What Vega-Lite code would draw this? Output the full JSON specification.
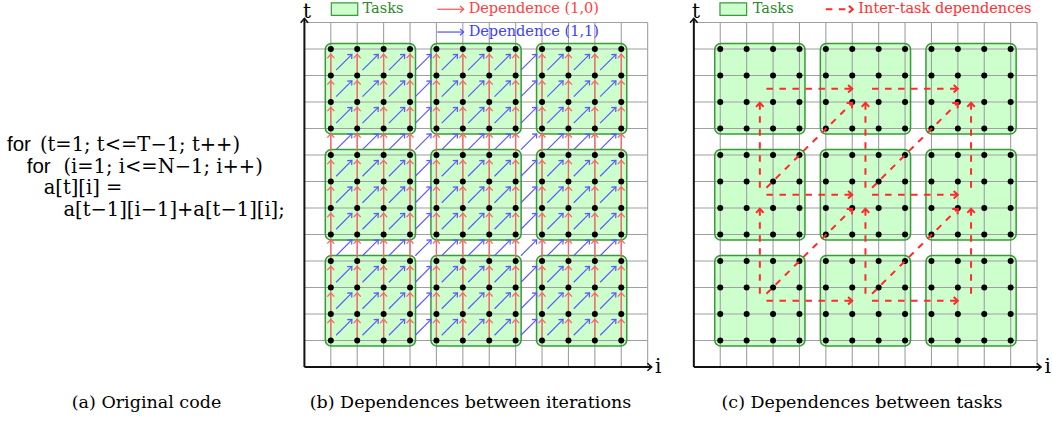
{
"$schema":"https://vega.github.io/schema/vega-lite/v6.json",
"padding":0,
"spacing":0,
"bounds":"flush",
"background":"white",
"config":{"view":{"stroke":null},"axis":{"disable":true},"legend":{"disable":true},
  "title":{"font":"DejaVu Serif","fontSize":17.5,"fontWeight":"normal","orient":"bottom","offset":9,"color":"#000"}},
"resolve":{"scale":{"x":"independent","y":"independent"}},
"datasets":{
"pts":[
{"i":1,"t":1},{"i":1,"t":2},{"i":1,"t":3},{"i":1,"t":4},{"i":1,"t":5},{"i":1,"t":6},{"i":1,"t":7},{"i":1,"t":8},{"i":1,"t":9},{"i":1,"t":10},{"i":1,"t":11},{"i":1,"t":12},
{"i":2,"t":1},{"i":2,"t":2},{"i":2,"t":3},{"i":2,"t":4},{"i":2,"t":5},{"i":2,"t":6},{"i":2,"t":7},{"i":2,"t":8},{"i":2,"t":9},{"i":2,"t":10},{"i":2,"t":11},{"i":2,"t":12},
{"i":3,"t":1},{"i":3,"t":2},{"i":3,"t":3},{"i":3,"t":4},{"i":3,"t":5},{"i":3,"t":6},{"i":3,"t":7},{"i":3,"t":8},{"i":3,"t":9},{"i":3,"t":10},{"i":3,"t":11},{"i":3,"t":12},
{"i":4,"t":1},{"i":4,"t":2},{"i":4,"t":3},{"i":4,"t":4},{"i":4,"t":5},{"i":4,"t":6},{"i":4,"t":7},{"i":4,"t":8},{"i":4,"t":9},{"i":4,"t":10},{"i":4,"t":11},{"i":4,"t":12},
{"i":5,"t":1},{"i":5,"t":2},{"i":5,"t":3},{"i":5,"t":4},{"i":5,"t":5},{"i":5,"t":6},{"i":5,"t":7},{"i":5,"t":8},{"i":5,"t":9},{"i":5,"t":10},{"i":5,"t":11},{"i":5,"t":12},
{"i":6,"t":1},{"i":6,"t":2},{"i":6,"t":3},{"i":6,"t":4},{"i":6,"t":5},{"i":6,"t":6},{"i":6,"t":7},{"i":6,"t":8},{"i":6,"t":9},{"i":6,"t":10},{"i":6,"t":11},{"i":6,"t":12},
{"i":7,"t":1},{"i":7,"t":2},{"i":7,"t":3},{"i":7,"t":4},{"i":7,"t":5},{"i":7,"t":6},{"i":7,"t":7},{"i":7,"t":8},{"i":7,"t":9},{"i":7,"t":10},{"i":7,"t":11},{"i":7,"t":12},
{"i":8,"t":1},{"i":8,"t":2},{"i":8,"t":3},{"i":8,"t":4},{"i":8,"t":5},{"i":8,"t":6},{"i":8,"t":7},{"i":8,"t":8},{"i":8,"t":9},{"i":8,"t":10},{"i":8,"t":11},{"i":8,"t":12},
{"i":9,"t":1},{"i":9,"t":2},{"i":9,"t":3},{"i":9,"t":4},{"i":9,"t":5},{"i":9,"t":6},{"i":9,"t":7},{"i":9,"t":8},{"i":9,"t":9},{"i":9,"t":10},{"i":9,"t":11},{"i":9,"t":12},
{"i":10,"t":1},{"i":10,"t":2},{"i":10,"t":3},{"i":10,"t":4},{"i":10,"t":5},{"i":10,"t":6},{"i":10,"t":7},{"i":10,"t":8},{"i":10,"t":9},{"i":10,"t":10},{"i":10,"t":11},{"i":10,"t":12},
{"i":11,"t":1},{"i":11,"t":2},{"i":11,"t":3},{"i":11,"t":4},{"i":11,"t":5},{"i":11,"t":6},{"i":11,"t":7},{"i":11,"t":8},{"i":11,"t":9},{"i":11,"t":10},{"i":11,"t":11},{"i":11,"t":12},
{"i":12,"t":1},{"i":12,"t":2},{"i":12,"t":3},{"i":12,"t":4},{"i":12,"t":5},{"i":12,"t":6},{"i":12,"t":7},{"i":12,"t":8},{"i":12,"t":9},{"i":12,"t":10},{"i":12,"t":11},{"i":12,"t":12}
],
"grid":[{"v":1},{"v":2},{"v":3},{"v":4},{"v":5},{"v":6},{"v":7},{"v":8},{"v":9},{"v":10},{"v":11},{"v":12},{"v":13}],
"tasks":[
{"i1":1,"i2":4,"t1":1,"t2":4},{"i1":5,"i2":8,"t1":1,"t2":4},{"i1":9,"i2":12,"t1":1,"t2":4},
{"i1":1,"i2":4,"t1":5,"t2":8},{"i1":5,"i2":8,"t1":5,"t2":8},{"i1":9,"i2":12,"t1":5,"t2":8},
{"i1":1,"i2":4,"t1":9,"t2":12},{"i1":5,"i2":8,"t1":9,"t2":12},{"i1":9,"i2":12,"t1":9,"t2":12}
],
"deps":[
{"kind":"h","i":2.5,"t":2.5,"i2":6.5,"t2":2.5},{"kind":"h","i":6.5,"t":2.5,"i2":10.5,"t2":2.5},
{"kind":"h","i":2.5,"t":6.5,"i2":6.5,"t2":6.5},{"kind":"h","i":6.5,"t":6.5,"i2":10.5,"t2":6.5},
{"kind":"h","i":2.5,"t":10.5,"i2":6.5,"t2":10.5},{"kind":"h","i":6.5,"t":10.5,"i2":10.5,"t2":10.5},
{"kind":"v","i":2.5,"t":2.5,"i2":2.5,"t2":6.5},{"kind":"v","i":2.5,"t":6.5,"i2":2.5,"t2":10.5},
{"kind":"v","i":6.5,"t":2.5,"i2":6.5,"t2":6.5},{"kind":"v","i":6.5,"t":6.5,"i2":6.5,"t2":10.5},
{"kind":"v","i":10.5,"t":2.5,"i2":10.5,"t2":6.5},{"kind":"v","i":10.5,"t":6.5,"i2":10.5,"t2":10.5},
{"kind":"d","i":2.5,"t":2.5,"i2":6.5,"t2":6.5},{"kind":"d","i":6.5,"t":2.5,"i2":10.5,"t2":6.5},
{"kind":"d","i":2.5,"t":6.5,"i2":6.5,"t2":10.5},{"kind":"d","i":6.5,"t":6.5,"i2":10.5,"t2":10.5}
],
"code":[
{"row":1,"col":0,"part":"kw","text":"for"},
{"row":1,"col":3.5,"part":"expr","text":"(t=1; t<=T−1; t++)"},
{"row":2,"col":2.1,"part":"kw","text":"for"},
{"row":2,"col":6.0,"part":"expr","text":"(i=1; i<=N−1; i++)"},
{"row":3,"col":3.9,"part":"expr","text":"a[t][i] ="},
{"row":4,"col":6.0,"part":"expr","text":"a[t−1][i−1]+a[t−1][i];"}
]
},
"hconcat":[
{
"width":277.6,"height":385,
"title":{"text":"(a) Original code","dx":7.7},
"layer":[
{"data":{"name":"code"},"transform":[{"filter":"datum.part==='kw'"}],
 "mark":{"type":"text","font":"Liberation Sans","fontSize":20.5,"align":"left","baseline":"middle","color":"#000"},
 "encoding":{"x":{"field":"col","type":"quantitative","scale":{"domain":[-0.745,28.79],"nice":false,"zero":false}},
   "y":{"field":"row","type":"quantitative","scale":{"domain":[-5.68,12.06],"nice":false,"zero":false,"reverse":true}},
   "text":{"field":"text"}}},
{"data":{"name":"code"},"transform":[{"filter":"datum.part==='expr'"}],
 "mark":{"type":"text","font":"DejaVu Serif","fontSize":19.5,"align":"left","baseline":"middle","color":"#000"},
 "encoding":{"x":{"field":"col","type":"quantitative"},"y":{"field":"row","type":"quantitative"},"text":{"field":"text"}}}
]
},
{
"width":399.5,"height":385,
"title":{"text":"(b) Dependences between iterations","dx":-7.3},
"layer":[
{"data":{"name":"tasks"},
 "mark":{"type":"rect","fill":"#ccffcc","cornerRadius":6,"xOffset":-5.5,"x2Offset":5.5,"yOffset":5.5,"y2Offset":-5.5},
 "encoding":{"x":{"field":"i1","type":"quantitative","scale":{"domain":[-1,14.13],"nice":false,"zero":false}},"x2":{"field":"i2"},
   "y":{"field":"t1","type":"quantitative","scale":{"domain":[-0.679,13.849],"nice":false,"zero":false}},"y2":{"field":"t2"}}},
{"data":{"name":"grid"},"mark":{"type":"rule","stroke":"#a0a0a0","strokeWidth":1.1},
 "encoding":{"x":{"field":"v","type":"quantitative"},"y":{"datum":0,"type":"quantitative"},"y2":{"datum":13}}},
{"data":{"name":"grid"},"mark":{"type":"rule","stroke":"#a0a0a0","strokeWidth":1.1},
 "encoding":{"y":{"field":"v","type":"quantitative"},"x":{"datum":0,"type":"quantitative"},"x2":{"datum":13}}},
{"data":{"name":"tasks"},
 "mark":{"type":"rect","fillOpacity":0,"stroke":"#3a9a3a","strokeWidth":1.5,"cornerRadius":6,"xOffset":-5.5,"x2Offset":5.5,"yOffset":5.5,"y2Offset":-5.5},
 "encoding":{"x":{"field":"i1","type":"quantitative"},"x2":{"field":"i2"},"y":{"field":"t1","type":"quantitative"},"y2":{"field":"t2"}}},
{"data":{"name":"pts"},"transform":[{"filter":"datum.t<=11"}],
 "mark":{"type":"rule","stroke":"#ff6464","strokeWidth":1.3,"y2Offset":-21.2},
 "encoding":{"x":{"field":"i","type":"quantitative"},"y":{"field":"t","type":"quantitative"},"y2":{"field":"t"}}},
{"data":{"name":"pts"},"transform":[{"filter":"datum.t<=11"}],
 "mark":{"type":"point","shape":"M -0.9 1 L 0 0 L 0.9 1","filled":false,"stroke":"#ff6464","strokeWidth":1.3,"size":60,"opacity":1,"yOffset":-21.2,"angle":0},
 "encoding":{"x":{"field":"i","type":"quantitative"},"y":{"field":"t","type":"quantitative"}}},
{"data":{"name":"pts"},"transform":[{"filter":"datum.t<=11 && datum.i<=11"}],
 "mark":{"type":"rule","stroke":"#5a5aff","strokeWidth":1.2,"xOffset":5.3,"yOffset":-5.3,"x2Offset":21.1,"y2Offset":-21.2},
 "encoding":{"x":{"field":"i","type":"quantitative"},"x2":{"field":"i"},"y":{"field":"t","type":"quantitative"},"y2":{"field":"t"}}},
{"data":{"name":"pts"},"transform":[{"filter":"datum.t<=11 && datum.i<=11"}],
 "mark":{"type":"point","shape":"M -0.9 1 L 0 0 L 0.9 1","filled":false,"stroke":"#5a5aff","strokeWidth":1.2,"size":50,"opacity":1,"xOffset":21.1,"yOffset":-21.2,"angle":45},
 "encoding":{"x":{"field":"i","type":"quantitative"},"y":{"field":"t","type":"quantitative"}}},
{"data":{"name":"pts"},
 "mark":{"type":"point","filled":true,"color":"#000","size":36,"opacity":1},
 "encoding":{"x":{"field":"i","type":"quantitative"},"y":{"field":"t","type":"quantitative"}}},
{"data":{"values":[{}]},"mark":{"type":"rule","stroke":"#111","strokeWidth":2},
 "encoding":{"x":{"datum":0,"type":"quantitative"},"x2":{"datum":13.15},"y":{"datum":0,"type":"quantitative"}}},
{"data":{"values":[{}]},"mark":{"type":"rule","stroke":"#111","strokeWidth":2},
 "encoding":{"x":{"datum":0,"type":"quantitative"},"y":{"datum":0,"type":"quantitative"},"y2":{"datum":13.15}}},
{"data":{"values":[{}]},"mark":{"type":"point","shape":"M -0.9 1 L 0 0 L 0.9 1","filled":false,"stroke":"#111","strokeWidth":1.6,"size":70,"opacity":1,"angle":90},
 "encoding":{"x":{"datum":13.15,"type":"quantitative"},"y":{"datum":0,"type":"quantitative"}}},
{"data":{"values":[{}]},"mark":{"type":"point","shape":"M -0.9 1 L 0 0 L 0.9 1","filled":false,"stroke":"#111","strokeWidth":1.6,"size":70,"opacity":1,"angle":0},
 "encoding":{"x":{"datum":0,"type":"quantitative"},"y":{"datum":13.15,"type":"quantitative"}}},
{"data":{"values":[{}]},"mark":{"type":"text","text":"i","font":"DejaVu Serif","fontSize":20,"align":"center","baseline":"middle","color":"#000"},
 "encoding":{"x":{"datum":13.4,"type":"quantitative"},"y":{"datum":0,"type":"quantitative"}}},
{"data":{"values":[{}]},"mark":{"type":"text","text":"t","font":"DejaVu Serif","fontSize":20,"align":"center","baseline":"middle","color":"#000"},
 "encoding":{"x":{"datum":0.1,"type":"quantitative"},"y":{"datum":13.4,"type":"quantitative"}}},
{"data":{"values":[{}]},"mark":{"type":"rect","fill":"#ccffcc","stroke":"#3a9a3a","strokeWidth":1.2},
 "encoding":{"x":{"datum":1.02,"type":"quantitative"},"x2":{"datum":2.02},"y":{"datum":13.27,"type":"quantitative"},"y2":{"datum":13.74}}},
{"data":{"values":[{}]},"mark":{"type":"text","text":"Tasks","font":"DejaVu Serif","fontSize":14.5,"align":"left","baseline":"middle","color":"#2a8a2a"},
 "encoding":{"x":{"datum":2.2,"type":"quantitative"},"y":{"datum":13.5,"type":"quantitative"}}},
{"data":{"values":[{}]},"mark":{"type":"rule","stroke":"#ff5050","strokeWidth":1.2},
 "encoding":{"x":{"datum":5.03,"type":"quantitative"},"x2":{"datum":6.03},"y":{"datum":13.5,"type":"quantitative"}}},
{"data":{"values":[{}]},"mark":{"type":"point","shape":"M -0.9 1 L 0 0 L 0.9 1","filled":false,"stroke":"#ff5050","strokeWidth":1.2,"size":50,"opacity":1,"angle":90},
 "encoding":{"x":{"datum":6.03,"type":"quantitative"},"y":{"datum":13.5,"type":"quantitative"}}},
{"data":{"values":[{}]},"mark":{"type":"text","text":"Dependence (1,0)","font":"DejaVu Serif","fontSize":14.5,"align":"left","baseline":"middle","color":"#ff4040"},
 "encoding":{"x":{"datum":6.22,"type":"quantitative"},"y":{"datum":13.5,"type":"quantitative"}}},
{"data":{"values":[{}]},"mark":{"type":"rule","stroke":"#5050ff","strokeWidth":1.2},
 "encoding":{"x":{"datum":5.03,"type":"quantitative"},"x2":{"datum":6.03},"y":{"datum":12.64,"type":"quantitative"}}},
{"data":{"values":[{}]},"mark":{"type":"point","shape":"M -0.9 1 L 0 0 L 0.9 1","filled":false,"stroke":"#5050ff","strokeWidth":1.2,"size":50,"opacity":1,"angle":90},
 "encoding":{"x":{"datum":6.03,"type":"quantitative"},"y":{"datum":12.64,"type":"quantitative"}}},
{"data":{"values":[{}]},"mark":{"type":"text","text":"Dependence (1,1)","font":"DejaVu Serif","fontSize":14.5,"align":"left","baseline":"middle","color":"#4040ff"},
 "encoding":{"x":{"datum":6.22,"type":"quantitative"},"y":{"datum":12.64,"type":"quantitative"}}}
]
},
{
"width":374.9,"height":385,
"title":{"text":"(c) Dependences between tasks","dx":-3.5},
"layer":[
{"data":{"name":"tasks"},
 "mark":{"type":"rect","fill":"#ccffcc","cornerRadius":6,"xOffset":-5.5,"x2Offset":5.5,"yOffset":5.5,"y2Offset":-5.5},
 "encoding":{"x":{"field":"i1","type":"quantitative","scale":{"domain":[-0.6,13.6],"nice":false,"zero":false}},"x2":{"field":"i2"},
   "y":{"field":"t1","type":"quantitative","scale":{"domain":[-0.679,13.849],"nice":false,"zero":false}},"y2":{"field":"t2"}}},
{"data":{"name":"grid"},"mark":{"type":"rule","stroke":"#a0a0a0","strokeWidth":1.1},
 "encoding":{"x":{"field":"v","type":"quantitative"},"y":{"datum":0,"type":"quantitative"},"y2":{"datum":13}}},
{"data":{"name":"grid"},"mark":{"type":"rule","stroke":"#a0a0a0","strokeWidth":1.1},
 "encoding":{"y":{"field":"v","type":"quantitative"},"x":{"datum":0,"type":"quantitative"},"x2":{"datum":13}}},
{"data":{"name":"tasks"},
 "mark":{"type":"rect","fillOpacity":0,"stroke":"#3a9a3a","strokeWidth":1.5,"cornerRadius":6,"xOffset":-5.5,"x2Offset":5.5,"yOffset":5.5,"y2Offset":-5.5},
 "encoding":{"x":{"field":"i1","type":"quantitative"},"x2":{"field":"i2"},"y":{"field":"t1","type":"quantitative"},"y2":{"field":"t2"}}},
{"data":{"name":"pts"},
 "mark":{"type":"point","filled":true,"color":"#000","size":36,"opacity":1},
 "encoding":{"x":{"field":"i","type":"quantitative"},"y":{"field":"t","type":"quantitative"}}},
{"data":{"name":"deps"},"transform":[{"filter":"datum.kind==='h'"}],
 "mark":{"type":"rule","stroke":"#ff2a2a","strokeWidth":2,"strokeDash":[6.5,6.5],"xOffset":6.6,"x2Offset":-13.2},
 "encoding":{"x":{"field":"i","type":"quantitative"},"x2":{"field":"i2"},"y":{"field":"t","type":"quantitative"}}},
{"data":{"name":"deps"},"transform":[{"filter":"datum.kind==='h'"}],
 "mark":{"type":"point","shape":"M -0.9 1 L 0 0 L 0.9 1","filled":false,"stroke":"#ff2a2a","strokeWidth":2,"size":70,"opacity":1,"xOffset":-13.2,"angle":90},
 "encoding":{"x":{"field":"i2","type":"quantitative"},"y":{"field":"t2","type":"quantitative"}}},
{"data":{"name":"deps"},"transform":[{"filter":"datum.kind==='v'"}],
 "mark":{"type":"rule","stroke":"#ff2a2a","strokeWidth":2,"strokeDash":[6.5,6.5],"yOffset":-7,"y2Offset":14},
 "encoding":{"x":{"field":"i","type":"quantitative"},"y":{"field":"t","type":"quantitative"},"y2":{"field":"t2"}}},
{"data":{"name":"deps"},"transform":[{"filter":"datum.kind==='v'"}],
 "mark":{"type":"point","shape":"M -0.9 1 L 0 0 L 0.9 1","filled":false,"stroke":"#ff2a2a","strokeWidth":2,"size":70,"opacity":1,"yOffset":14,"angle":0},
 "encoding":{"x":{"field":"i2","type":"quantitative"},"y":{"field":"t2","type":"quantitative"}}},
{"data":{"name":"deps"},"transform":[{"filter":"datum.kind==='d'"}],
 "mark":{"type":"rule","stroke":"#ff2a2a","strokeWidth":2,"strokeDash":[6.5,6.5],"xOffset":6.6,"yOffset":-7,"x2Offset":-13.2,"y2Offset":14},
 "encoding":{"x":{"field":"i","type":"quantitative"},"x2":{"field":"i2"},"y":{"field":"t","type":"quantitative"},"y2":{"field":"t2"}}},
{"data":{"name":"deps"},"transform":[{"filter":"datum.kind==='d'"}],
 "mark":{"type":"point","shape":"M -0.9 1 L 0 0 L 0.9 1","filled":false,"stroke":"#ff2a2a","strokeWidth":2,"size":70,"opacity":1,"xOffset":-13.2,"yOffset":14,"angle":45},
 "encoding":{"x":{"field":"i2","type":"quantitative"},"y":{"field":"t2","type":"quantitative"}}},
{"data":{"values":[{}]},"mark":{"type":"rule","stroke":"#111","strokeWidth":2},
 "encoding":{"x":{"datum":0,"type":"quantitative"},"x2":{"datum":13.15},"y":{"datum":0,"type":"quantitative"}}},
{"data":{"values":[{}]},"mark":{"type":"rule","stroke":"#111","strokeWidth":2},
 "encoding":{"x":{"datum":0,"type":"quantitative"},"y":{"datum":0,"type":"quantitative"},"y2":{"datum":13.15}}},
{"data":{"values":[{}]},"mark":{"type":"point","shape":"M -0.9 1 L 0 0 L 0.9 1","filled":false,"stroke":"#111","strokeWidth":1.6,"size":70,"opacity":1,"angle":90},
 "encoding":{"x":{"datum":13.15,"type":"quantitative"},"y":{"datum":0,"type":"quantitative"}}},
{"data":{"values":[{}]},"mark":{"type":"point","shape":"M -0.9 1 L 0 0 L 0.9 1","filled":false,"stroke":"#111","strokeWidth":1.6,"size":70,"opacity":1,"angle":0},
 "encoding":{"x":{"datum":0,"type":"quantitative"},"y":{"datum":13.15,"type":"quantitative"}}},
{"data":{"values":[{}]},"mark":{"type":"text","text":"i","font":"DejaVu Serif","fontSize":20,"align":"center","baseline":"middle","color":"#000"},
 "encoding":{"x":{"datum":13.4,"type":"quantitative"},"y":{"datum":0,"type":"quantitative"}}},
{"data":{"values":[{}]},"mark":{"type":"text","text":"t","font":"DejaVu Serif","fontSize":20,"align":"center","baseline":"middle","color":"#000"},
 "encoding":{"x":{"datum":0.08,"type":"quantitative"},"y":{"datum":13.4,"type":"quantitative"}}},
{"data":{"values":[{}]},"mark":{"type":"rect","fill":"#ccffcc","stroke":"#3a9a3a","strokeWidth":1.2},
 "encoding":{"x":{"datum":0.99,"type":"quantitative"},"x2":{"datum":2.0},"y":{"datum":13.27,"type":"quantitative"},"y2":{"datum":13.74}}},
{"data":{"values":[{}]},"mark":{"type":"text","text":"Tasks","font":"DejaVu Serif","fontSize":14.5,"align":"left","baseline":"middle","color":"#2a8a2a"},
 "encoding":{"x":{"datum":2.23,"type":"quantitative"},"y":{"datum":13.5,"type":"quantitative"}}},
{"data":{"values":[{}]},"mark":{"type":"rule","stroke":"#ff2a2a","strokeWidth":2,"strokeDash":[6.5,6.5]},
 "encoding":{"x":{"datum":5.0,"type":"quantitative"},"x2":{"datum":6.02},"y":{"datum":13.5,"type":"quantitative"}}},
{"data":{"values":[{}]},"mark":{"type":"point","shape":"M -0.9 1 L 0 0 L 0.9 1","filled":false,"stroke":"#ff2a2a","strokeWidth":2,"size":60,"opacity":1,"angle":90},
 "encoding":{"x":{"datum":6.02,"type":"quantitative"},"y":{"datum":13.5,"type":"quantitative"}}},
{"data":{"values":[{}]},"mark":{"type":"text","text":"Inter-task dependences","font":"DejaVu Serif","fontSize":14.5,"align":"left","baseline":"middle","color":"#ff3030"},
 "encoding":{"x":{"datum":6.23,"type":"quantitative"},"y":{"datum":13.5,"type":"quantitative"}}}
]
}
]
}
